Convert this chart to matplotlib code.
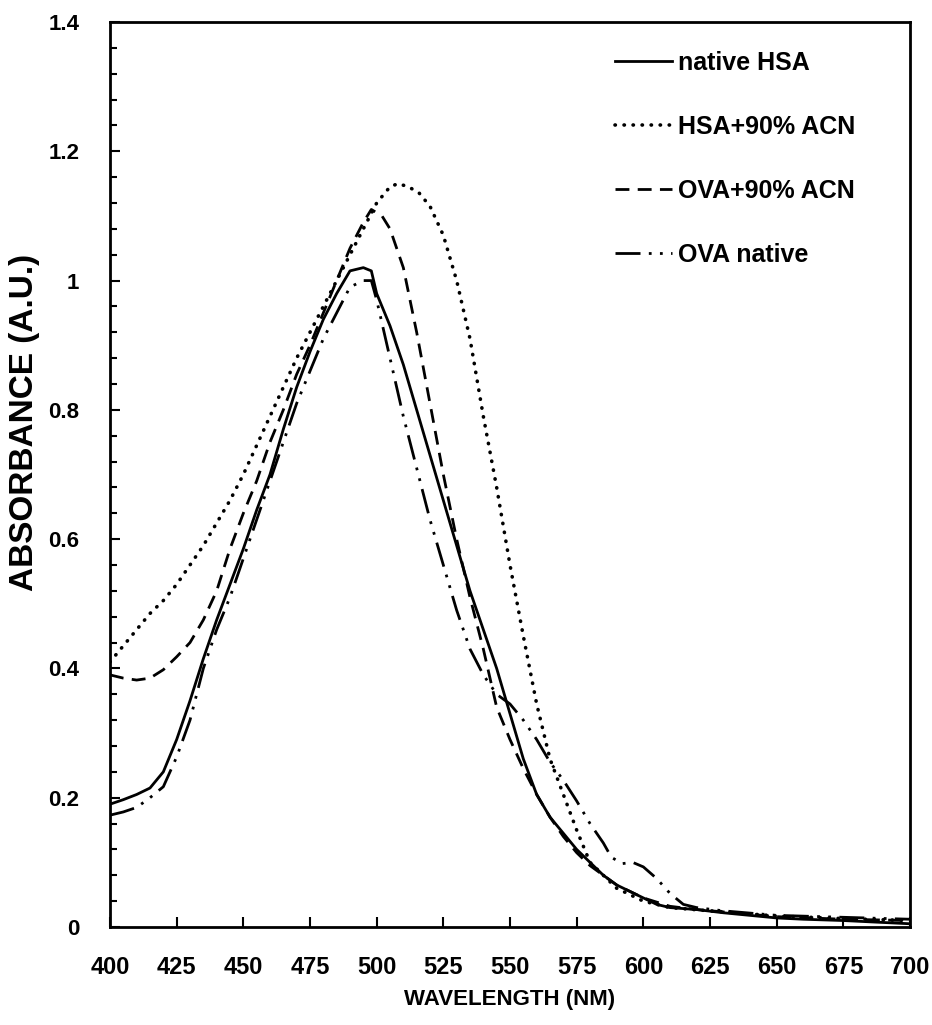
import numpy as np
import matplotlib
matplotlib.use("Agg")
import matplotlib.pyplot as plt
from matplotlib.ticker import MultipleLocator

plt.rcParams['font.family'] = ['Liberation Sans', 'DejaVu Sans']
plt.rcParams['font.weight'] = 'bold'

# native HSA (solid)
hsa_nm = [400, 405, 410, 415, 420, 425, 430, 435, 440, 445, 450, 455, 460, 465, 470, 475, 480, 485, 490, 495, 498,
          500, 505, 510, 515, 520, 525, 530, 535, 540, 545, 550, 555, 560, 565, 570, 575, 580, 585, 590, 595, 600,
          605, 610, 620, 630, 640, 650, 660, 675, 690, 700]
hsa_abs = [0.19, 0.197, 0.205, 0.215, 0.24, 0.29, 0.35, 0.415, 0.475, 0.53, 0.585, 0.645, 0.70, 0.77, 0.835, 0.89, 0.94, 0.98, 1.015, 1.02, 1.015,
           0.98, 0.93, 0.87, 0.80, 0.73, 0.66, 0.59, 0.52, 0.46, 0.40, 0.33, 0.26, 0.205, 0.17, 0.145, 0.12, 0.10, 0.08, 0.065, 0.055, 0.045,
           0.035, 0.03, 0.027, 0.022, 0.018, 0.014, 0.012, 0.01, 0.007, 0.005]

# HSA + 90% ACN (dotted)
hsa_acn_nm = [400, 405, 410, 415, 420, 425, 430, 435, 440, 445, 450, 455, 460, 465, 470, 475, 480, 485, 490, 495, 500,
              505, 508, 512, 516, 520, 525, 530, 535, 540, 545, 550, 555, 560, 565, 570, 575, 580, 585, 590, 600, 610,
              625, 650, 675, 700]
hsa_acn_abs = [0.41, 0.435, 0.46, 0.485, 0.505, 0.53, 0.56, 0.59, 0.625, 0.66, 0.70, 0.745, 0.79, 0.835, 0.88, 0.92, 0.96, 1.0, 1.04, 1.08, 1.12,
               1.145, 1.15, 1.145, 1.135, 1.115, 1.07, 1.0, 0.91, 0.79, 0.68, 0.56, 0.45, 0.345, 0.26, 0.205, 0.15, 0.10, 0.08, 0.06, 0.04, 0.03,
               0.025, 0.017, 0.013, 0.01]

# OVA + 90% ACN (dashed)
ova_acn_nm = [400, 405, 410, 415, 420, 425, 430, 435, 440, 445, 450, 455, 460, 465, 470, 475, 480, 485, 490, 495, 498,
              502, 505, 510, 515, 520, 525, 530, 535, 540, 545, 550, 555, 560, 565, 570, 575, 580, 590, 600, 610, 620,
              650, 675, 700]
ova_acn_abs = [0.39, 0.385, 0.382, 0.385, 0.398, 0.418, 0.44, 0.475, 0.52, 0.585, 0.64, 0.69, 0.75, 0.80, 0.855, 0.90, 0.95, 1.0, 1.05, 1.09, 1.11,
               1.10, 1.08, 1.02, 0.92, 0.81, 0.70, 0.60, 0.51, 0.43, 0.34, 0.29, 0.245, 0.205, 0.17, 0.14, 0.115, 0.095, 0.065, 0.045, 0.032, 0.027,
               0.016, 0.012, 0.01]

# OVA native (dash-dot-dot)
ova_nm = [400, 405, 410, 415, 420, 425, 430, 435, 440, 445, 450, 455, 460, 465, 470, 475, 480, 485, 490, 495, 498,
          500, 505, 510, 515, 520, 525, 530, 535, 540, 545, 550, 555, 560, 565, 570, 575, 580, 585, 588, 592, 596,
          600, 605, 610, 615, 620, 630, 650, 675, 700]
ova_abs = [0.173, 0.178, 0.185, 0.20, 0.217, 0.263, 0.32, 0.40, 0.46, 0.51, 0.57, 0.63, 0.69, 0.75, 0.81, 0.86, 0.91, 0.95, 0.99, 1.0, 1.0,
           0.97, 0.88, 0.79, 0.71, 0.63, 0.56, 0.49, 0.43, 0.39, 0.36, 0.345, 0.32, 0.29, 0.255, 0.227, 0.195, 0.16, 0.13, 0.108, 0.098, 0.10,
           0.093, 0.075, 0.052, 0.035, 0.03, 0.025, 0.018, 0.015, 0.012]

labels = ["native HSA", "HSA+90% ACN", "OVA+90% ACN", "OVA native"]

fig = plt.figure(figsize=(9.32, 10.25), dpi=100)
ax = fig.add_axes([110/932, 1 - 927/1025, 800/932, 905/1025])

lw = 2.0
ax.plot(hsa_nm, hsa_abs, color='black', lw=lw, ls='-', label=labels[0])
ax.plot(hsa_acn_nm, hsa_acn_abs, color='black', lw=2.6, ls=(0, (0.1, 2.4)), dash_capstyle='round', label=labels[1])
ax.plot(ova_acn_nm, ova_acn_abs, color='black', lw=lw, ls=(0, (5, 3)), label=labels[2])
ax.plot(ova_nm, ova_abs, color='black', lw=lw, ls=(0, (9, 3, 1, 3, 1, 3)), label=labels[3])

ax.set_xlim(400, 700)
ax.set_ylim(0, 1.4)
ax.xaxis.set_major_locator(MultipleLocator(25))
ax.yaxis.set_minor_locator(MultipleLocator(0.04))
ax.set_yticks([0, 0.2, 0.4, 0.6, 0.8, 1.0, 1.2, 1.4])
ax.set_yticklabels(['0', '0.2', '0.4', '0.6', '0.8', '1', '1.2', '1.4'])
ax.tick_params(axis='both', which='both', direction='in', width=1.5)
ax.tick_params(axis='both', which='major', length=7)
ax.tick_params(axis='x', which='major', pad=21, labelsize=17)
ax.tick_params(axis='y', which='minor', length=5)
ax.tick_params(axis='y', which='major', pad=22, labelsize=16)
for s in ax.spines.values():
    s.set_linewidth(2)
for t in ax.get_xticklabels() + ax.get_yticklabels():
    t.set_fontweight('bold')

ax.set_xlabel('WAVELENGTH (NM)', fontsize=16, fontweight='bold', labelpad=7)
ax.set_ylabel('ABSORBANCE (A.U.)', fontsize=24, fontweight='bold')
ax.yaxis.set_label_coords(-0.088, (927 - 422) / 905)

leg = ax.legend(loc='upper left', bbox_to_anchor=(0.631, 0.968), frameon=False, fontsize=18,
                handlelength=2.3, handletextpad=0.24, labelspacing=1.6, borderpad=0, borderaxespad=0)
for t in leg.get_texts():
    t.set_fontweight('bold')

fig.savefig('out.png', dpi=100)
